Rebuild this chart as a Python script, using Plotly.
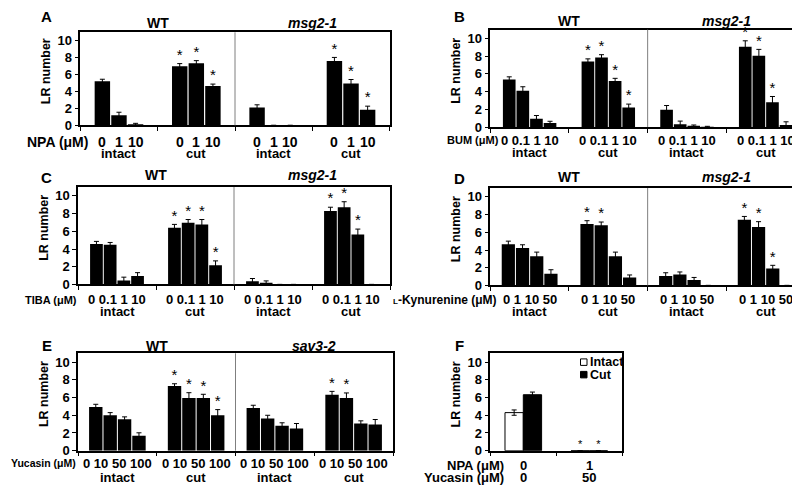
import plotly.graph_objects as go

# ---------------- data ----------------
groups = ["intact", "cut", "intact", "cut"]

A_conc = ["0", "1", "10"]
A_mean = [[5.2, 1.2, 0.12], [7.0, 7.35, 4.65], [2.1, 0, 0], [7.6, 4.95, 1.85]]
A_err = [[0.25, 0.35, 0.12], [0.3, 0.3, 0.23], [0.33, 0, 0], [0.43, 0.47, 0.42]]
A_sig = [[0, 0, 0], [1, 1, 1], [0, 0, 0], [1, 1, 1]]

B_conc = ["0", "0.1", "1", "10"]
B_mean = [[5.37, 4.1, 0.93, 0.45], [7.4, 7.85, 5.2, 2.22], [1.95, 0.3, 0.08, 0.03], [9.07, 8.05, 2.8, 0.22]]
B_err = [[0.3, 0.45, 0.37, 0.2], [0.3, 0.32, 0.3, 0.37], [0.48, 0.37, 0.15, 0.05], [0.67, 0.72, 0.65, 0.37]]
B_sig = [[0, 0, 0, 0], [1, 1, 1, 1], [0, 0, 0, 0], [1, 1, 1, 0]]

C_conc = ["0", "0.1", "1", "10"]
C_mean = [[4.56, 4.48, 0.45, 0.96], [6.41, 6.96, 6.78, 2.18], [0.37, 0.2, 0, 0], [8.3, 8.72, 5.65, 0]]
C_err = [[0.3, 0.26, 0.37, 0.37], [0.37, 0.37, 0.55, 0.48], [0.3, 0.2, 0, 0], [0.42, 0.62, 0.6, 0]]
C_sig = [[0, 0, 0, 0], [1, 1, 1, 1], [0, 0, 0, 0], [1, 1, 1, 0]]

D_conc = ["0", "1", "10", "50"]
D_mean = [[4.65, 4.22, 3.28, 1.33], [6.94, 6.79, 3.28, 0.88], [1.05, 1.22, 0.62, 0], [7.42, 6.6, 1.92, 0]]
D_err = [[0.35, 0.37, 0.48, 0.44], [0.37, 0.37, 0.48, 0.3], [0.38, 0.3, 0.28, 0], [0.37, 0.6, 0.35, 0]]
D_sig = [[0, 0, 0, 0], [1, 1, 0, 0], [0, 0, 0, 0], [1, 1, 1, 0]]

E_conc = ["0", "10", "50", "100"]
E_mean = [[4.94, 4.0, 3.56, 1.69], [7.3, 5.95, 5.95, 4.0], [4.83, 3.63, 2.81, 2.5], [6.33, 5.95, 3.07, 2.96]]
E_err = [[0.3, 0.3, 0.26, 0.33], [0.26, 0.6, 0.42, 0.64], [0.3, 0.37, 0.34, 0.57], [0.37, 0.57, 0.3, 0.56]]
E_sig = [[0, 0, 0, 0], [1, 1, 1, 1], [0, 0, 0, 0], [1, 1, 0, 0]]

F_npa = ["0", "1"]
F_yuc = ["0", "50"]
F_intact = [4.3, 0]
F_intact_err = [0.3, 0]
F_cut = [6.32, 0]
F_cut_err = [0.3, 0]
F_sig = [0, 1]

# ---------------- layout helpers ----------------
FW, FH = 800, 492
FONT = "Arial, 'Liberation Sans', sans-serif"


def px(x):
    return x / FW


def py(y):
    return 1 - y / FH


fig = go.Figure()
annotations = []
shapes = []
layout_axes = {}


def axis_names(k):
    s = "" if k == 1 else str(k)
    return "x" + s, "y" + s, "xaxis" + s, "yaxis" + s


def setup_axes(k, dom, ncat):
    x0, x1, y0, y1 = dom
    xr, yr, xa, ya = axis_names(k)
    layout_axes[xa] = dict(domain=[px(x0), px(x1)], range=[0, ncat], anchor=yr,
                           tickvals=list(range(ncat + 1)), ticktext=[""] * (ncat + 1),
                           ticks="outside", ticklen=4, tickwidth=1, tickcolor="black",
                           showline=True, linecolor="black", linewidth=1.5, mirror=True,
                           showgrid=False, zeroline=False, fixedrange=True)
    layout_axes[ya] = dict(domain=[py(y1), py(y0)], range=[0, 11], anchor=xr,
                           tickvals=[0, 2, 4, 6, 8, 10], ticks="outside", ticklen=4,
                           tickwidth=1, tickcolor="black",
                           tickfont=dict(family=FONT, size=13, color="black", weight="bold"),
                           showline=True, linecolor="black", linewidth=1.5, mirror=True,
                           showgrid=False, zeroline=False, fixedrange=True)
    return xr, yr


def text(x, y, s, size, xref="paper", anchor="center", angle=0, italic=False):
    if italic:
        s = "<i>" + s + "</i>"
    annotations.append(dict(x=x, y=y, xref=xref, yref="paper", text="<b>" + s + "</b>",
                            showarrow=False, xanchor=anchor, yanchor="middle", textangle=angle,
                            borderpad=0,
                            font=dict(family=FONT, size=size, color="black")))


def add_panel(k, dom, conc, means, errs, sigs, spacing_px, titles, label,
              label_x, label_size, val_y, grp_y, title_y, val_size=13, per_bar=False):
    x0, x1, y0, y1 = dom
    ncat = len(means)
    xr, yr = setup_axes(k, dom, ncat)
    catw = (x1 - x0) / ncat
    sp = spacing_px / catw
    n = len(conc)
    xs, ys, es, sx, sy = [], [], [], [], []
    for g in range(ncat):
        for i in range(n):
            xv = g + 0.5 + (i - (n - 1) / 2) * sp
            xs.append(xv)
            ys.append(means[g][i])
            es.append(errs[g][i])
            if sigs[g][i]:
                sx.append(xv)
                sy.append(means[g][i] + errs[g][i])
            if per_bar:
                text(xv, py(val_y), conc[i], val_size, xref=xr)
        if not per_bar:
            text(g + 0.5, py(val_y), " ".join(conc), val_size, xref=xr)
        text(g + 0.5, py(grp_y), groups[g], 13, xref=xr)
    fig.add_trace(go.Bar(x=xs, y=ys, width=sp * 0.93, xaxis=xr, yaxis=yr,
                         marker=dict(color="black", line=dict(width=0)),
                         error_y=dict(type="data", array=es, color="black", thickness=1, width=2.5),
                         showlegend=False))
    fig.add_trace(go.Scatter(x=sx, y=sy, mode="text", text=["*"] * len(sx), textposition="top center",
                             textfont=dict(family=FONT, size=15, color="black"),
                             xaxis=xr, yaxis=yr, showlegend=False, cliponaxis=False))
    # divider between genotypes
    shapes.append(dict(type="line", xref=xr, yref=yr + " domain", x0=2, x1=2, y0=0, y1=1,
                       line=dict(color="#7f7f7f", width=1)))
    text(1, py(title_y), titles[0], 14, xref=xr)
    text(3, py(title_y), titles[1], 14, xref=xr, italic=True)
    text(px(label_x), py(val_y), label, label_size, anchor="right")
    text(px(x0 - 34), py((y0 + y1) / 2 - 8), "LR number", 12.5, angle=-90)


add_panel(1, (72.3, 381.7, 24.7, 119.3), A_conc, A_mean, A_err, A_sig, 16.6,
          ["WT", "msg2-1"], "NPA (μM)", 81, 14, 136.5, 148, 15, val_size=14, per_bar=True)
add_panel(2, (482.3, 797, 22, 121), B_conc, B_mean, B_err, B_sig, 13.6,
          ["WT", "msg2-1"], "BUM (μM)", 492, 11, 134.5, 146.5, 13)
add_panel(3, (70, 382, 182, 281), C_conc, C_mean, C_err, C_sig, 13.7,
          ["WT", "msg2-1"], "TIBA (μM)", 70, 11, 296.5, 308.5, 170)
add_panel(4, (482.3, 797, 183, 282), D_conc, D_mean, D_err, D_sig, 14.2,
          ["WT", "msg2-1"], "<span style='font-size:8px'>L</span>-Kynurenine (μM)", 490, 12, 296.5, 308.5, 172)
add_panel(5, (70, 385, 351, 450), E_conc, E_mean, E_err, E_sig, 14.4,
          ["WT", "sav3-2"], "Yucasin (μM)", 69, 10.5, 463, 477, 344)

# panel F
domF = (482.3, 614.3, 351, 450)
xrF, yrF = setup_axes(6, domF, 2)
catwF = (domF[1] - domF[0]) / 2
spF = 18.3 / catwF
xi = [g + 0.5 - spF / 2 for g in range(2)]
xc = [g + 0.5 + spF / 2 for g in range(2)]
fig.add_trace(go.Bar(x=xi, y=F_intact, width=spF, xaxis=xrF, yaxis=yrF, name="Intact",
                     marker=dict(color="white", line=dict(color="black", width=1)),
                     error_y=dict(type="data", array=F_intact_err, color="black", thickness=1, width=2.5),
                     showlegend=False))
fig.add_trace(go.Bar(x=xc, y=F_cut, width=spF, xaxis=xrF, yaxis=yrF, name="Cut",
                     marker=dict(color="black", line=dict(color="black", width=1)),
                     error_y=dict(type="data", array=F_cut_err, color="black", thickness=1, width=2.5),
                     showlegend=False))
fsx = [xi[g] for g in range(2) if F_sig[g]] + [xc[g] for g in range(2) if F_sig[g]]
fsy = [F_intact[g] + F_intact_err[g] for g in range(2) if F_sig[g]] + \
      [F_cut[g] + F_cut_err[g] for g in range(2) if F_sig[g]]
fig.add_trace(go.Scatter(x=fsx, y=fsy, mode="text", text=["*"] * len(fsx), textposition="top center",
                         textfont=dict(family=FONT, size=11, color="black"),
                         xaxis=xrF, yaxis=yrF, showlegend=False, cliponaxis=False))
for g in range(2):
    text(g + 0.5, py(465), F_npa[g], 13, xref=xrF)
    text(g + 0.5, py(477.5), F_yuc[g], 13, xref=xrF)
text(px(497), py(465), "NPA (μM)", 13, anchor="right")
text(px(497), py(477.5), "Yucasin (μM)", 13, anchor="right")
text(px(domF[0] - 34), py((domF[2] + domF[3]) / 2 - 8), "LR number", 12.5, angle=-90)
# legend of panel F
for yy, fillc, lab in [(360, "white", "Intact"), (372.7, "black", "Cut")]:
    shapes.append(dict(type="rect", xref="paper", yref="paper", x0=px(572.5), x1=px(579),
                       y0=py(yy + 3.3), y1=py(yy - 3.3), fillcolor=fillc, line=dict(color="black", width=1)))
    text(px(580.5), py(yy), lab, 12.5, anchor="left")

# panel letters
for lab, (lx, ly) in {"A": (38, 9), "B": (451, 9), "C": (38, 172), "D": (452, 173),
                      "E": (39, 343), "F": (451, 343)}.items():
    text(px(lx), py(ly), lab, 15)

fig.update_layout(width=FW, height=FH, margin=dict(l=0, r=0, t=0, b=0),
                  paper_bgcolor="white", plot_bgcolor="white", barmode="overlay",
                  showlegend=False, annotations=annotations, shapes=shapes,
                  font=dict(family=FONT, color="black"), **layout_axes)
fig.write_html("out.html")
